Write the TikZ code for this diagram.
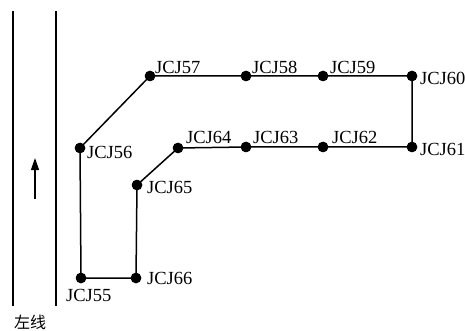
\documentclass[tikz,border=0pt]{standalone}
\usepackage{fontspec}
\setmainfont{Liberation Serif}
\newfontfamily\cjk{Noto Sans CJK SC}
\usetikzlibrary{arrows.meta}
\begin{document}
\begin{tikzpicture}[x=1pt,y=-1pt,
  pt/.style={circle,fill=black,inner sep=0pt,minimum size=10.5pt},
  lbl/.style={anchor=base west,inner sep=0pt,font=\fontsize{18.5}{20}\selectfont},
  route/.style={line width=1.5pt},
  rail/.style={line width=1.2pt}]
\useasboundingbox (0,0) rectangle (465,331);
% track edges and travel direction
\coordinate (l1t) at (13,11);  \coordinate (l1b) at (13,306);
\coordinate (l2t) at (56,11);  \coordinate (l2b) at (56,306);
\draw[rail] (l1t) -- (l1b);
\draw[rail] (l2t) -- (l2b);
\coordinate (ab) at (35,199); \coordinate (at) at (35,158);
\draw[rail,-{Triangle[length=12pt,width=8pt]}] (ab) -- (at);
\node[anchor=center,inner sep=0pt,font=\cjk\fontsize{16}{18}\selectfont] (side) at (30,322) {左线};
% survey points
\node[pt] (p55) at (81,278) {};
\node[pt] (p56) at (80,148) {};
\node[pt] (p57) at (150,76) {};
\node[pt] (p58) at (246,76) {};
\node[pt] (p59) at (323,76) {};
\node[pt] (p60) at (412,76) {};
\node[pt] (p61) at (412,147) {};
\node[pt] (p62) at (323,147) {};
\node[pt] (p63) at (246,147) {};
\node[pt] (p64) at (178,148) {};
\node[pt] (p65) at (137,185) {};
\node[pt] (p66) at (136,278) {};
% route
\draw[route] (p55.center) -- (p56.center) -- (p57.center) -- (p58.center) -- (p59.center) -- (p60.center)
  -- (p61.center) -- (p62.center) -- (p63.center) -- (p64.center) -- (p65.center) -- (p66.center) -- cycle;
\foreach \p in {55,...,66} \node[pt] at (p\p) {};
% labels
\node[lbl] (t55) at (66,301) {JCJ55};
\node[lbl] (t56) at (87,158) {JCJ56};
\node[lbl] (t57) at (155,74) {JCJ57};
\node[lbl] (t58) at (252,74) {JCJ58};
\node[lbl] (t59) at (330,74) {JCJ59};
\node[lbl] (t60) at (420,85) {JCJ60};
\node[lbl] (t61) at (420,155) {JCJ61};
\node[lbl] (t62) at (332,143) {JCJ62};
\node[lbl] (t63) at (253,143) {JCJ63};
\node[lbl] (t64) at (186,143) {JCJ64};
\node[lbl] (t65) at (147,193) {JCJ65};
\node[lbl] (t66) at (147,284) {JCJ66};
\end{tikzpicture}
\end{document}
